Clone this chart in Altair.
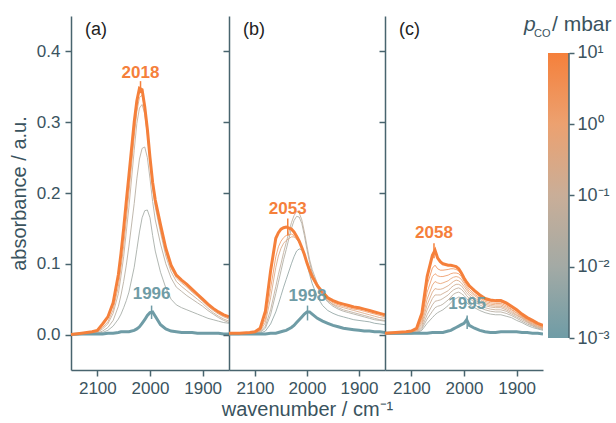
import altair as alt
import pandas as pd

# ---------------- data ----------------
WN = [2150, 2130, 2110, 2100, 2090, 2080, 2070, 2060, 2055, 2050, 2045, 2040, 2030, 2025,
      2020, 2015, 2010, 2005, 2000, 1995, 1990, 1980, 1970, 1960, 1950, 1940, 1930, 1920,
      1910, 1900, 1890, 1880, 1870, 1860, 1850]

# panel (a)
A_BLUE = [0.000, 0.001, 0.001, 0.001, 0.001, 0.002, 0.002, 0.003, 0.004, 0.004, 0.004, 0.004, 0.006, 0.008,
          0.011, 0.016, 0.021, 0.027, 0.031, 0.032, 0.026, 0.014, 0.008, 0.005, 0.004, 0.003, 0.003, 0.003,
          0.002, 0.002, 0.002, 0.002, 0.002, 0.001, 0.001]
A_T4 = [0.000, 0.000, 0.001, 0.002, 0.003, 0.006, 0.012, 0.022, 0.029, 0.038, 0.048, 0.060, 0.095, 0.120,
        0.145, 0.165, 0.175, 0.176, 0.165, 0.140, 0.118, 0.088, 0.066, 0.050, 0.042, 0.038, 0.035, 0.032,
        0.029, 0.026, 0.023, 0.021, 0.019, 0.017, 0.016]
A_T3 = [0.000, 0.001, 0.001, 0.002, 0.005, 0.010, 0.020, 0.040, 0.056, 0.075, 0.098, 0.125, 0.185, 0.220,
        0.248, 0.263, 0.265, 0.250, 0.220, 0.188, 0.162, 0.128, 0.100, 0.080, 0.067, 0.061, 0.055, 0.050,
        0.045, 0.040, 0.034, 0.029, 0.024, 0.020, 0.017]
A_T2 = [0.000, 0.001, 0.002, 0.003, 0.008, 0.015, 0.030, 0.058, 0.083, 0.110, 0.145, 0.180, 0.260, 0.298,
        0.320, 0.325, 0.312, 0.283, 0.243, 0.207, 0.180, 0.144, 0.111, 0.089, 0.075, 0.068, 0.062, 0.056,
        0.050, 0.044, 0.037, 0.031, 0.026, 0.022, 0.019]
A_T1 = [0.000, 0.001, 0.002, 0.004, 0.010, 0.018, 0.035, 0.068, 0.095, 0.125, 0.162, 0.200, 0.280, 0.315,
        0.335, 0.338, 0.320, 0.288, 0.248, 0.212, 0.186, 0.150, 0.117, 0.094, 0.080, 0.073, 0.067, 0.060,
        0.054, 0.047, 0.040, 0.034, 0.029, 0.025, 0.022]
A_ORANGE = [0.000, 0.002, 0.004, 0.006, 0.015, 0.025, 0.045, 0.085, 0.115, 0.150, 0.188, 0.225, 0.300, 0.330,
            0.348, 0.346, 0.322, 0.290, 0.250, 0.215, 0.190, 0.155, 0.122, 0.098, 0.084, 0.077, 0.071, 0.064,
            0.057, 0.050, 0.043, 0.037, 0.032, 0.028, 0.025]
A_P = [0.001, 0.01, 0.03, 0.1, 0.3, 10]

# panel (b)
B_BLUE = [0.001, 0.001, 0.001, 0.001, 0.001, 0.001, 0.002, 0.002, 0.003, 0.004, 0.005, 0.006, 0.010, 0.013,
          0.017, 0.021, 0.025, 0.029, 0.032, 0.032, 0.029, 0.023, 0.019, 0.016, 0.013, 0.011, 0.009, 0.008,
          0.007, 0.006, 0.005, 0.005, 0.004, 0.004, 0.003]
B_T5 = [0.000, 0.000, 0.001, 0.001, 0.002, 0.005, 0.015, 0.032, 0.043, 0.055, 0.067, 0.078, 0.100, 0.110,
        0.118, 0.121, 0.120, 0.113, 0.100, 0.085, 0.072, 0.053, 0.041, 0.034, 0.030, 0.027, 0.025, 0.023,
        0.021, 0.020, 0.019, 0.018, 0.016, 0.015, 0.014]
B_T4 = [0.000, 0.000, 0.001, 0.002, 0.003, 0.009, 0.028, 0.058, 0.074, 0.090, 0.106, 0.120, 0.150, 0.161,
        0.167, 0.166, 0.157, 0.140, 0.120, 0.102, 0.088, 0.068, 0.055, 0.046, 0.040, 0.036, 0.033, 0.031,
        0.029, 0.027, 0.025, 0.023, 0.021, 0.020, 0.019]
B_T3 = [0.000, 0.001, 0.001, 0.002, 0.004, 0.012, 0.035, 0.068, 0.085, 0.100, 0.116, 0.130, 0.158, 0.168,
        0.174, 0.172, 0.162, 0.145, 0.125, 0.106, 0.092, 0.072, 0.058, 0.048, 0.042, 0.038, 0.035, 0.033,
        0.031, 0.029, 0.027, 0.025, 0.023, 0.021, 0.020]
B_T2 = [0.001, 0.001, 0.001, 0.002, 0.005, 0.017, 0.052, 0.095, 0.111, 0.122, 0.129, 0.133, 0.138, 0.138,
        0.135, 0.130, 0.123, 0.113, 0.102, 0.091, 0.081, 0.066, 0.056, 0.048, 0.043, 0.040, 0.038, 0.036,
        0.034, 0.032, 0.030, 0.028, 0.026, 0.024, 0.023]
B_T1 = [0.001, 0.001, 0.002, 0.003, 0.006, 0.022, 0.065, 0.110, 0.124, 0.132, 0.137, 0.140, 0.142, 0.140,
        0.136, 0.130, 0.122, 0.112, 0.101, 0.091, 0.082, 0.068, 0.058, 0.050, 0.045, 0.042, 0.040, 0.038,
        0.036, 0.035, 0.033, 0.031, 0.029, 0.027, 0.025]
B_ORANGE = [0.002, 0.002, 0.003, 0.004, 0.009, 0.033, 0.090, 0.136, 0.144, 0.149, 0.151, 0.152, 0.149, 0.145,
            0.139, 0.132, 0.123, 0.113, 0.101, 0.091, 0.082, 0.069, 0.060, 0.052, 0.048, 0.045, 0.043, 0.041,
            0.039, 0.038, 0.036, 0.034, 0.032, 0.030, 0.028]
B_P = [0.001, 0.005, 0.02, 0.05, 0.3, 1.5, 10]

# panel (c)
C_BLUE = [0.002, 0.002, 0.002, 0.002, 0.002, 0.002, 0.002, 0.003, 0.003, 0.003, 0.003, 0.003, 0.005, 0.006,
          0.008, 0.010, 0.012, 0.014, 0.016, 0.021, 0.013, 0.009, 0.006, 0.004, 0.003, 0.003, 0.004, 0.004,
          0.004, 0.004, 0.003, 0.003, 0.002, 0.002, 0.001]
C_T8 = [0.001, 0.001, 0.001, 0.001, 0.002, 0.006, 0.016, 0.024, 0.028, 0.031, 0.033, 0.035, 0.041, 0.045,
        0.049, 0.051, 0.053, 0.052, 0.049, 0.045, 0.042, 0.038, 0.034, 0.031, 0.029, 0.028, 0.028, 0.026,
        0.024, 0.020, 0.017, 0.013, 0.010, 0.008, 0.006]
C_T7 = [0.001, 0.001, 0.001, 0.001, 0.002, 0.008, 0.022, 0.033, 0.038, 0.040, 0.041, 0.043, 0.049, 0.053,
        0.057, 0.059, 0.060, 0.058, 0.055, 0.051, 0.047, 0.042, 0.038, 0.035, 0.033, 0.032, 0.032, 0.030,
        0.027, 0.023, 0.019, 0.015, 0.012, 0.009, 0.007]
C_T6 = [0.001, 0.001, 0.001, 0.002, 0.003, 0.010, 0.028, 0.042, 0.047, 0.048, 0.049, 0.051, 0.056, 0.060,
        0.063, 0.065, 0.066, 0.064, 0.060, 0.055, 0.051, 0.046, 0.042, 0.038, 0.036, 0.035, 0.035, 0.033,
        0.029, 0.025, 0.021, 0.017, 0.013, 0.010, 0.008]
C_T5 = [0.001, 0.001, 0.002, 0.002, 0.004, 0.013, 0.035, 0.051, 0.056, 0.056, 0.056, 0.058, 0.062, 0.066,
        0.069, 0.071, 0.071, 0.069, 0.064, 0.059, 0.055, 0.049, 0.045, 0.041, 0.039, 0.038, 0.038, 0.035,
        0.031, 0.027, 0.023, 0.018, 0.014, 0.011, 0.009]
C_T4 = [0.001, 0.001, 0.002, 0.003, 0.005, 0.016, 0.042, 0.060, 0.065, 0.064, 0.064, 0.065, 0.069, 0.072,
        0.075, 0.077, 0.076, 0.073, 0.068, 0.063, 0.058, 0.052, 0.047, 0.043, 0.041, 0.040, 0.040, 0.037,
        0.033, 0.028, 0.024, 0.019, 0.015, 0.012, 0.009]
C_T3 = [0.001, 0.002, 0.002, 0.003, 0.006, 0.019, 0.050, 0.070, 0.075, 0.073, 0.072, 0.073, 0.076, 0.079,
        0.081, 0.082, 0.081, 0.078, 0.072, 0.066, 0.061, 0.055, 0.050, 0.045, 0.043, 0.042, 0.042, 0.039,
        0.035, 0.030, 0.025, 0.020, 0.016, 0.013, 0.010]
C_T2 = [0.002, 0.002, 0.003, 0.004, 0.007, 0.022, 0.060, 0.082, 0.086, 0.083, 0.082, 0.082, 0.084, 0.086,
        0.087, 0.087, 0.086, 0.082, 0.075, 0.069, 0.064, 0.057, 0.052, 0.047, 0.045, 0.044, 0.044, 0.041,
        0.036, 0.031, 0.026, 0.021, 0.017, 0.014, 0.011]
C_T1 = [0.002, 0.002, 0.003, 0.004, 0.008, 0.026, 0.070, 0.094, 0.098, 0.093, 0.091, 0.091, 0.092, 0.093,
        0.093, 0.092, 0.090, 0.085, 0.078, 0.072, 0.067, 0.060, 0.054, 0.049, 0.047, 0.046, 0.046, 0.043,
        0.038, 0.033, 0.027, 0.022, 0.018, 0.015, 0.012]
C_ORANGE = [0.002, 0.003, 0.004, 0.005, 0.009, 0.030, 0.082, 0.112, 0.119, 0.108, 0.103, 0.100, 0.098, 0.098,
            0.097, 0.096, 0.093, 0.087, 0.080, 0.074, 0.069, 0.062, 0.056, 0.051, 0.049, 0.048, 0.048, 0.045,
            0.040, 0.035, 0.029, 0.024, 0.020, 0.016, 0.013]
C_P = [0.001, 0.012, 0.03, 0.07, 0.15, 0.3, 0.7, 1.5, 3, 10]

PANELS = {
    "a": (A_P, [A_BLUE, A_T4, A_T3, A_T2, A_T1, A_ORANGE]),
    "b": (B_P, [B_BLUE, B_T5, B_T4, B_T3, B_T2, B_T1, B_ORANGE]),
    "c": (C_P, [C_BLUE, C_T8, C_T7, C_T6, C_T5, C_T4, C_T3, C_T2, C_T1, C_ORANGE]),
}

# peak annotations: panel, x position, label, tick low/high, label y, colour key
ANN_PANEL = ["a", "a", "b", "b", "c", "c"]
ANN_X = [2018, 1997, 2037, 1999, 2057, 1994]
ANN_TEXT = ["2018", "1996", "2053", "1998", "2058", "1995"]
ANN_LO = [0.341, 0.022, 0.140, 0.020, 0.108, 0.008]
ANN_HI = [0.358, 0.041, 0.164, 0.041, 0.129, 0.027]
ANN_TY = [0.370, 0.057, 0.178, 0.055, 0.143, 0.043]
ANN_KIND = ["hi", "lo", "hi", "lo", "hi", "lo"]

CB_TICKS = [0.001, 0.01, 0.1, 1, 10]
CB_COLORS = ["#6f9ca6", "#a3aaa5", "#c9ae98", "#eca170", "#f5803b"]

ORANGE = "#f5803b"
BLUE = "#6f9ca6"
AX = "#48646e"
TXT = "#3a535e"
FONT = "Liberation Sans"

# ---------------- tables ----------------
rows = []
for key, (plist, curves) in PANELS.items():
    n = len(curves)
    for i, (p, vals) in enumerate(zip(plist, curves)):
        thick = (i == 0) or (i == n - 1)
        for w, v in zip(WN, vals):
            rows.append({"panel": key, "cid": f"{key}{i}", "p": p,
                         "w": 3 if thick else 1, "kind": "thick" if thick else "thin",
                         "wn": w, "val": v})
df = pd.DataFrame(rows)

ann = pd.DataFrame({"panel": ANN_PANEL, "x": ANN_X, "t": ANN_TEXT, "lo": ANN_LO,
                    "hi": ANN_HI, "ty": ANN_TY,
                    "c": [ORANGE if k == "hi" else BLUE for k in ANN_KIND]})

cscale = alt.Scale(type="log", domain=CB_TICKS, range=CB_COLORS, interpolate="rgb")
xscale = alt.Scale(domain=[1850, 2150], reverse=True, nice=False, zero=False)
yscale = alt.Scale(domain=[-0.05, 0.45], nice=False, zero=False)

W = {"a": 158, "b": 156, "c": 158}
H = 354


def panel(key):
    first = key == "a"
    xaxis = alt.Axis(values=[2100, 2000, 1900], format="d",
                     title="wavenumber / cm⁻¹" if key == "b" else None,
                     tickSize=6, labelPadding=4, titlePadding=3)
    if first:
        yaxis = alt.Axis(values=[0, 0.1, 0.2, 0.3, 0.4], format=".1f",
                         title="absorbance / a.u.", tickSize=6, labelPadding=5, titlePadding=7)
    else:
        yaxis = alt.Axis(values=[0, 0.1, 0.2, 0.3, 0.4], labels=False, title=None, tickSize=6)
    d = df[df.panel == key]
    x = alt.X("wn:Q", scale=xscale, axis=xaxis)
    y = alt.Y("val:Q", scale=yscale, axis=yaxis)
    enc = dict(x=x, y=y,
               color=alt.Color("p:Q", scale=cscale, legend=None),
               strokeWidth=alt.StrokeWidth("w:Q", scale=None),
               detail="cid:N")
    thin = alt.Chart(d[d.kind == "thin"]).mark_line(clip=True, strokeOpacity=0.85).encode(**enc)
    thick = alt.Chart(d[d.kind == "thick"]).mark_line(clip=True).encode(**enc)
    a = ann[ann.panel == key]
    rules = alt.Chart(a).mark_rule(strokeWidth=1.5).encode(
        x=alt.X("x:Q", scale=xscale), y=alt.Y("lo:Q", scale=yscale), y2="hi:Q",
        color=alt.Color("c:N", scale=None))
    texts = alt.Chart(a).mark_text(fontWeight="bold", fontSize=17, font=FONT,
                                   baseline="middle", align="center").encode(
        x=alt.X("x:Q", scale=xscale), y=alt.Y("ty:Q", scale=yscale), text="t:N",
        color=alt.Color("c:N", scale=None))
    lab = alt.Chart(pd.DataFrame({"t": [f"({key})"]})).mark_text(
        fontSize=18, font=FONT, align="left", baseline="middle", color="#222222").encode(
        x=alt.value(14), y=alt.value(14), text="t:N")
    return alt.layer(thin, thick, rules, texts, lab).properties(width=W[key], height=H)


# ---------------- colour bar ----------------
OFF = 5
cb = pd.DataFrame({"lo": [CB_TICKS[0]], "hi": [CB_TICKS[-1]]})
cb_scale = alt.Scale(type="log", domain=[0.000356, 33.0], nice=False)
grad = alt.Gradient(gradient="linear",
                    stops=[alt.GradientStop(color=c, offset=i / (len(CB_COLORS) - 1))
                           for i, c in enumerate(CB_COLORS)],
                    x1=0, x2=0, y1=1, y2=0)
label_expr = ("datum.value >= 5 ? '10¹' : datum.value >= 0.5 ? '10⁰' : "
              "datum.value >= 0.05 ? '10⁻¹' : datum.value >= 0.005 ? '10⁻²' : '10⁻³'")
bar = alt.Chart(cb).mark_rect(color=grad).encode(
    x=alt.value(OFF), x2=alt.value(OFF + 21),
    y=alt.Y("hi:Q", scale=cb_scale,
            axis=alt.Axis(orient="right", values=CB_TICKS, labelExpr=label_expr, domain=False,
                          tickSize=5, labelPadding=3, title=None, labelFontSize=18,
                          labelBaseline="middle")),
    y2="lo:Q")
bar_line = alt.Chart(cb).mark_rule(color=AX, strokeWidth=1.5).encode(
    x=alt.value(OFF + 21), y=alt.Y("hi:Q", scale=cb_scale), y2="lo:Q")
t_p = alt.Chart(cb).mark_text(text="p", fontStyle="italic", fontSize=21, font=FONT, color=TXT,
                              align="left", baseline="alphabetic").encode(
    x=alt.value(OFF - 24), y=alt.value(15))
t_co = alt.Chart(cb).mark_text(text="CO", fontSize=11, font=FONT, color=TXT,
                               align="left", baseline="alphabetic").encode(
    x=alt.value(OFF - 14), y=alt.value(21))
t_unit = alt.Chart(cb).mark_text(text="/ mbar", fontSize=21, font=FONT, color=TXT,
                                 align="left", baseline="alphabetic").encode(
    x=alt.value(OFF + 4), y=alt.value(15))
cbar = alt.layer(bar, bar_line, t_p, t_co, t_unit).properties(width=OFF + 21, height=H)

chart = alt.hconcat(panel("a"), panel("b"), panel("c"), cbar, spacing=0, bounds="flush").properties(
    padding={"left": 9, "top": 14, "right": 0, "bottom": 3}, background="white"
).configure_axis(
    domainColor=AX, tickColor=AX, domainWidth=1.5, tickWidth=1.5,
    labelColor=TXT, titleColor=TXT, labelFont=FONT, titleFont=FONT,
    labelFontSize=17, titleFontSize=20, titleFontWeight="normal", grid=False
).configure_view(stroke=None)

chart.save("out.html", embed_options={"renderer": "svg", "actions": False})
